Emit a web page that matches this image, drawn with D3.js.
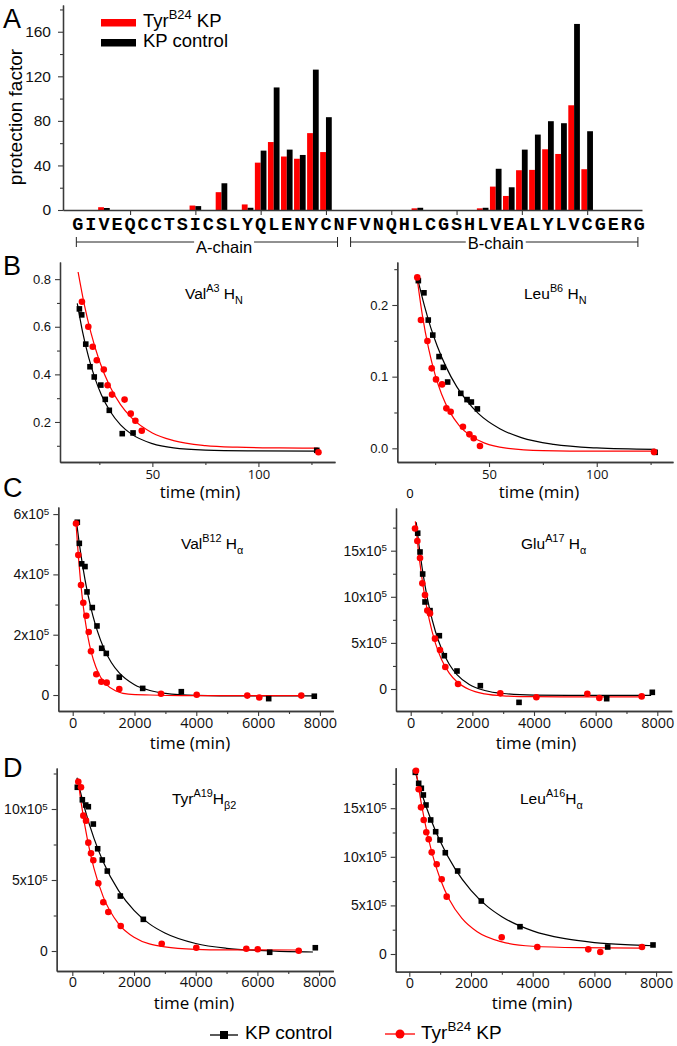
<!DOCTYPE html>
<html><head><meta charset="utf-8">
<script src="https://cdn.jsdelivr.net/npm/d3@7"></script>
<style>body{margin:0;background:#fff;} svg{display:block;} text{white-space:pre;}</style>
</head><body>
<script>
// ================= DATA =================
// Panel A: protection factors per residue
const sequence = "GIVEQCCTSICSLYQLENYCNFVNQHLCGSHLVEALYLVCGERG".split("");
const pfResidueIndex = [2,9,11,13,14,15,16,17,18,19,26,31,32,33,34,35,36,37,38,39];
const pfTyrB24   = [2.5,4,16,5,42.5,61,48,46,69,52,1.5,1.5,21,12.6,35.7,36,54.5,50.3,94,36.6];
const pfControl  = [1.8,3.5,24,2,53.3,110,54.2,49.4,126,83.3,2,2,37,20.4,54.2,67.7,79.7,77.9,167,70.7];
const pfTicks = [0,40,80,120,160];
const pfMinorTicks = [20,60,100,140,180];
const seqTickIndex = [4,9,14,19,24,29,34,39];
const chainNames = ["A-chain","B-chain"];
const chainFirst = [0,21];
const chainLast = [20,43];

// Panel B left: Val A3 HN
const valA3_kpTime = [15.6,16.7,18.6,20.6,22.6,25.7,27.8,29.7,35.8,40.9,127.5];
const valA3_kpSignal = [0.675,0.65,0.527,0.432,0.389,0.355,0.295,0.249,0.151,0.154,0.081];
const valA3_tyrTime = [16.8,19.8,21.9,23.8,27.1,28.9,31,36.9,39.8,42,45,128.3];
const valA3_tyrSignal = [0.705,0.60,0.516,0.459,0.42,0.354,0.315,0.294,0.235,0.205,0.163,0.073];
const valA3_kpFitTime = [14.6,17,20,23,26,30,35,40,50,60,75,95,128];
const valA3_kpFit = [0.698,0.583,0.47,0.382,0.313,0.246,0.188,0.15,0.109,0.091,0.082,0.079,0.078];
const valA3_tyrFitTime = [15,18,21,25,30,35,40,50,60,75,90,110,128];
const valA3_tyrFit = [0.83,0.69,0.576,0.457,0.349,0.273,0.219,0.154,0.122,0.101,0.094,0.091,0.09];

// Panel B right: Leu B6 HN
const leuB6_kpTime = [17.2,19.8,21.8,23.9,26.8,28.8,30.8,36.9,39.8,41.8,44.6,127.1];
const leuB6_kpSignal = [0.234,0.217,0.179,0.158,0.128,0.113,0.0925,0.0767,0.068,0.0646,0.055,-0.0056];
const leuB6_tyrTime = [16.7,18.4,21.4,23.4,25.4,28.2,30.2,32.2,37.9,40.9,42.9,45.8,126.6];
const leuB6_tyrSignal = [0.2385,0.179,0.1497,0.1116,0.0962,0.0892,0.0558,0.051,0.030,0.0195,0.014,0.0032,-0.005];
const leuB6_kpFitTime = [17,20,23,26,30,35,40,45,55,65,80,100,127];
const leuB6_kpFit = [0.235,0.199,0.168,0.1425,0.114,0.086,0.065,0.0487,0.0273,0.0149,0.0054,0.0005,-0.0015];
const leuB6_tyrFitTime = [16.5,19,22,25,28,32,36,41,48,58,75,100,127];
const leuB6_tyrFit = [0.24,0.187,0.1387,0.1025,0.0755,0.0498,0.0325,0.0184,0.0073,0.0003,-0.0032,-0.004,-0.004];

// Panel C left: Val B12 Hα (signal in units of 10^5)
const valB12_kpTime = [149,214,291,398,463,634,786,938,1087,1508,2265,3515,6343,7819];
const valB12_kpSignal = [5.73,5.03,4.35,4.26,3.42,2.9,2.29,1.55,1.38,0.59,0.22,0.11,-0.12,-0.04];
const valB12_tyrTime = [107,181,269,343,440,518,592,764,926,1100,1508,2858,4013,5650,6039,7398];
const valB12_tyrSignal = [5.69,4.64,3.65,3.06,2.63,2.09,1.45,0.69,0.44,0.41,0.2,0.04,0.01,-0.02,-0.08,-0.02];
const valB12_kpFitTime = [130,200,300,400,500,650,800,1000,1250,1500,2000,2500,3000,4000,5500,7800];
const valB12_kpFit = [5.69,5.13,4.43,3.82,3.30,2.64,2.12,1.57,1.08,0.74,0.34,0.15,0.056,-0.01,-0.03,-0.03];
const valB12_tyrFitTime = [100,200,300,400,500,600,750,900,1100,1400,1800,2500,3500,7400];
const valB12_tyrFit = [5.78,4.40,3.32,2.50,1.89,1.42,0.93,0.60,0.335,0.133,0.03,0.0,-0.02,-0.02];

// Panel C right: Glu A17 Hα (×10^5)
const gluA17_kpTime = [227,302,388,464,626,929,1091,1502,2259,3514,6358,7838];
const gluA17_kpSignal = [16.9,14.86,12.47,9.44,8.5,5.78,3.61,1.95,0.36,-1.45,-1.05,-0.36];
const gluA17_tyrTime = [140,215,302,377,464,539,626,788,950,1123,1535,2908,4076,5730,6119,7493];
const gluA17_tyrSignal = [17.4,16.05,14.2,11.46,10.2,8.5,8.2,5.46,4.23,2.39,0.54,-0.47,-0.9,-0.51,-0.98,-0.8];
const gluA17_kpFitTime = [180,300,450,600,800,1000,1250,1500,1900,2400,3000,4000,5500,7800];
const gluA17_kpFit = [18.08,14.8,11.49,8.89,6.26,4.36,2.69,1.57,0.5,-0.16,-0.49,-0.66,-0.7,-0.7];
const gluA17_tyrFitTime = [150,250,350,450,600,800,1000,1250,1500,1900,2400,3000,4000,5500,7500];
const gluA17_tyrFit = [18.18,15.01,12.37,10.17,7.54,4.98,3.2,1.72,0.78,-0.06,-0.53,-0.74,-0.83,-0.85,-0.85];

// Panel D left: Tyr A19 Hβ2 (×10^5)
const tyrA19_kpTime = [162,325,434,519,681,822,972,1135,1556,2302,6398,7877];
const tyrA19_kpSignal = [11.53,10.65,10.28,10.16,8.94,7.2,6.41,5.63,3.87,2.23,-0.09,0.23];
const tyrA19_tyrTime = [194,282,357,444,519,606,681,843,1005,1167,1569,2898,4019,5640,6010,7339];
const tyrA19_tyrSignal = [11.92,11.53,9.53,9.18,7.63,6.88,6.39,4.77,3.43,2.75,1.76,0.51,0.23,0.16,0.12,0.02];
const tyrA19_kpFitTime = [150,400,700,1000,1500,2000,2500,3000,4000,5000,6000,7000,7800];
const tyrA19_kpFit = [12.2,10.05,7.95,6.29,4.25,2.86,1.91,1.27,0.53,0.19,0.04,-0.04,-0.07];
const tyrA19_tyrFitTime = [180,300,500,700,1000,1500,2000,3000,4000,5000,7300];
const tyrA19_tyrFit = [12.16,10.26,7.73,5.83,3.83,1.91,0.97,0.29,0.12,0.08,0.07];

// Panel D right: Leu A16 Hα (×10^5)
const leuA16_kpTime = [195,304,390,455,541,693,855,995,1167,1568,2334,3588,6431,7900];
const leuA16_kpSignal = [18.69,17.56,17.05,16.36,15.33,13.79,12.58,11.73,10.42,8.54,5.45,2.81,0.72,0.93];
const leuA16_tyrTime = [217,304,379,467,551,629,726,888,1050,1212,2995,4149,5802,6191,7543];
const leuA16_tyrSignal = [18.86,16.95,15.09,13.79,12.52,11.8,10.46,9.23,7.69,5.9,1.72,0.72,0.48,0.21,0.72];
const leuA16_kpFitTime = [180,400,700,1000,1500,2000,2500,3000,4000,5000,6000,7000,7900];
const leuA16_kpFit = [18.87,16.54,13.84,11.6,8.68,6.55,4.98,3.84,2.38,1.6,1.18,0.96,0.85];
const leuA16_tyrFitTime = [217,400,600,800,1000,1300,1700,2200,3000,4000,5500,7500];
const leuA16_tyrFit = [18.9,15.29,12.16,9.69,7.75,5.59,3.69,2.29,1.25,0.8,0.65,0.6];

// Tick values for kinetic panels
const timeTicksShort = [50,100];
const timeMinorShort = [25,75,125];
const timeTicksLong = [0,2000,4000,6000,8000];
const timeMinorLong = [1000,3000,5000,7000];

// ================= DRAWING =================
const RED = "#ff0000", BLACK = "#000000", AXC = "#3a3a3a";
const SANS = "'Liberation Sans', Arial, sans-serif";
const OPEN = "'Open Sans', 'Liberation Sans', sans-serif";
const svg = d3.select("body").append("svg").attr("width",677).attr("height",1046)
  .style("font-family", SANS);

function styleAxis(g, size, family){
  g.attr("font-family", family).attr("font-size", size);
  g.select(".domain").attr("stroke", AXC).attr("stroke-width", 1.3);
  g.selectAll(".tick line").attr("stroke", AXC).attr("stroke-width", 1.1);
  g.selectAll(".tick text").attr("fill", "#111");
  return g;
}

function richText(sel, parts, size){
  let off = 0;
  parts.forEach(p => {
    const kind = p[1];
    const target = kind === "sup" ? -0.42*size : kind === "sub" ? 0.32*size : 0;
    sel.append("tspan").attr("dy", target - off)
      .attr("font-size", kind ? size*0.7 : size).text(p[0]);
    off = target;
  });
}

// Panel letters
[["A",28],["B",275],["C",497],["D",777]].forEach(([t,yb]) =>
  svg.append("text").attr("x",3).attr("y",yb).attr("font-size",27).attr("font-family",SANS).text(t));

// ---------- Panel A ----------
const gA = svg.append("g");
const xA = d3.scaleLinear().domain([-1.1355, 43.199]).range([63, 642]);
const yA = d3.scaleLinear().domain([0, 184]).range([210, 5]);
const bw = 5.8;
gA.selectAll("rect.tyr").data(pfResidueIndex).join("rect")
  .attr("x", d => xA(d) - bw).attr("width", bw)
  .attr("y", (d,i) => yA(pfTyrB24[i])).attr("height", (d,i) => yA(0) - yA(pfTyrB24[i]))
  .attr("fill", RED);
gA.selectAll("rect.kp").data(pfResidueIndex).join("rect")
  .attr("x", d => xA(d)).attr("width", bw)
  .attr("y", (d,i) => yA(pfControl[i])).attr("height", (d,i) => yA(0) - yA(pfControl[i]))
  .attr("fill", BLACK);

styleAxis(gA.append("g").attr("transform","translate(63,0)")
  .call(d3.axisLeft(yA).tickValues(pfTicks).tickSize(5).tickPadding(7).tickSizeOuter(0)), 15.5, SANS);
styleAxis(gA.append("g").attr("transform","translate(63,0)")
  .call(d3.axisLeft(yA).tickValues(pfMinorTicks).tickSize(3).tickFormat("").tickSizeOuter(0)), 15, SANS);
styleAxis(gA.append("g").attr("transform","translate(0,210)")
  .call(d3.axisBottom(xA).tickValues(seqTickIndex).tickSize(5).tickFormat("").tickSizeOuter(0)), 15, SANS);

gA.append("text").attr("transform","translate(22,117) rotate(-90)").attr("text-anchor","middle")
  .attr("font-size",19).text("protection factor");

// sequence letters (monospace, bold)
gA.selectAll("text.seq").data(sequence).join("text")
  .attr("x",(d,i)=>xA(i)).attr("y",230).attr("text-anchor","middle")
  .attr("font-family","'Liberation Mono','DejaVu Sans Mono',monospace").attr("font-weight","bold")
  .attr("font-size",18.5).text(d=>d);

// chain brackets
const chainLabelPos = [11.2, 32.0];
const chainLabelBase = [253, 249];
chainNames.forEach((name, k) => {
  const x0 = xA(chainFirst[k]) - 1.5, x1 = xA(chainLast[k]) - 1.5, yl = 242;
  const t = gA.append("text").attr("x", xA(chainLabelPos[k])).attr("y", chainLabelBase[k])
    .attr("text-anchor","middle").attr("font-size",16.5).text(name);
  const bb = t.node().getBBox();
  const c = gA.append("g").attr("stroke","#222").attr("stroke-width",1);
  c.append("line").attr("x1",x0).attr("x2",bb.x-2).attr("y1",yl).attr("y2",yl);
  c.append("line").attr("x1",bb.x+bb.width+2).attr("x2",x1).attr("y1",yl).attr("y2",yl);
  c.append("line").attr("x1",x0).attr("x2",x0).attr("y1",yl-5).attr("y2",yl+5);
  c.append("line").attr("x1",x1).attr("x2",x1).attr("y1",yl-5).attr("y2",yl+5);
});

// legend A
gA.append("rect").attr("x",101).attr("y",19).attr("width",35).attr("height",7.5).attr("fill",RED);
gA.append("rect").attr("x",101).attr("y",39).attr("width",35).attr("height",7.5).attr("fill",BLACK);
richText(gA.append("text").attr("x",143).attr("y",27), [["Tyr"],["B24","sup"],[" KP"]], 18.5);
gA.append("text").attr("x",143).attr("y",47).attr("font-size",18.5).text("KP control");

// ---------- Kinetic panels ----------
const panels = [
  { xr:[60,335], yr:[462,262], xd:[6.46,136.1], yd:[0.0319,0.872],
    xt:timeTicksShort, xm:timeMinorShort, yt:[0.2,0.4,0.6,0.8], ym:[0.1,0.3,0.5,0.7],
    fmt:"dec", yFont:13, xFont:13, xPad:3,
    title:[["Val"],["A3","sup"],[" H"],["N","sub"]], tx:185, ty:299, timeX:200, timeY:498,
    kp:[valA3_kpTime,valA3_kpSignal], tyr:[valA3_tyrTime,valA3_tyrSignal],
    kpFit:[valA3_kpFitTime,valA3_kpFit], tyrFit:[valA3_tyrFitTime,valA3_tyrFit] },
  { xr:[397.3,673], yr:[462,262], xd:[7.43,135.4], yd:[-0.0191,0.26],
    xt:timeTicksShort, xm:timeMinorShort, yt:[0,0.1,0.2], ym:[0.05,0.15,0.25],
    fmt:"dec", yFont:13, xFont:13, xPad:3,
    title:[["Leu"],["B6","sup"],[" H"],["N","sub"]], tx:524, ty:299, timeX:539, timeY:498,
    kp:[leuB6_kpTime,leuB6_kpSignal], tyr:[leuB6_tyrTime,leuB6_tyrSignal],
    kpFit:[leuB6_kpFitTime,leuB6_kpFit], tyrFit:[leuB6_tyrFitTime,leuB6_tyrFit] },
  { xr:[58.3,333.3], yr:[711,507], xd:[-466,8434], yd:[-0.53,6.235],
    xt:timeTicksLong, xm:timeMinorLong, yt:[0,2,4,6], ym:[1,3,5],
    fmt:"exp", yFont:14, xFont:14.5, xPad:1.5,
    title:[["Val"],["B12","sup"],[" H"],["α","sub"]], tx:181, ty:549, timeX:190, timeY:748.5,
    kp:[valB12_kpTime,valB12_kpSignal], tyr:[valB12_tyrTime,valB12_tyrSignal],
    kpFit:[valB12_kpFitTime,valB12_kpFit], tyrFit:[valB12_tyrFitTime,valB12_tyrFit] },
  { xr:[396,671.7], yr:[711,508], xd:[-477,8467], yd:[-2.386,19.63],
    xt:timeTicksLong, xm:timeMinorLong, yt:[0,5,10,15], ym:[2.5,7.5,12.5,17.5],
    fmt:"exp", yFont:14, xFont:14.5, xPad:1.5,
    title:[["Glu"],["A17","sup"],[" H"],["α","sub"]], tx:521, ty:549, timeX:536, timeY:748.5,
    kp:[gluA17_kpTime,gluA17_kpSignal], tyr:[gluA17_tyrTime,gluA17_tyrSignal],
    kpFit:[gluA17_kpFitTime,gluA17_kpFit], tyrFit:[gluA17_tyrFitTime,gluA17_tyrFit] },
  { xr:[56.7,333.3], yr:[971,768], xd:[-506,8460], yd:[-1.408,12.887],
    xt:timeTicksLong, xm:timeMinorLong, yt:[0,5,10], ym:[2.5,7.5,12.5],
    fmt:"exp", yFont:14, xFont:14.5, xPad:1,
    title:[["Tyr"],["A19","sup"],["H"],["β2","sub"]], tx:172, ty:804, timeX:194, timeY:1008.5,
    kp:[tyrA19_kpTime,tyrA19_kpSignal], tyr:[tyrA19_tyrTime,tyrA19_tyrSignal],
    kpFit:[tyrA19_kpFitTime,tyrA19_kpFit], tyrFit:[tyrA19_tyrFitTime,tyrA19_tyrFit] },
  { xr:[395.7,671.7], yr:[971.7,767.7], xd:[-441,8506], yd:[-1.821,19.167],
    xt:timeTicksLong, xm:timeMinorLong, yt:[0,5,10,15], ym:[2.5,7.5,12.5,17.5],
    fmt:"exp", yFont:14, xFont:14.5, xPad:1,
    title:[["Leu"],["A16","sup"],["H"],["α","sub"]], tx:520, ty:804, timeX:532, timeY:1008.5,
    kp:[leuA16_kpTime,leuA16_kpSignal], tyr:[leuA16_tyrTime,leuA16_tyrSignal],
    kpFit:[leuA16_kpFitTime,leuA16_kpFit], tyrFit:[leuA16_tyrFitTime,leuA16_tyrFit] }
];

panels.forEach(p => {
  const g = svg.append("g");
  const x = d3.scaleLinear().domain(p.xd).range(p.xr);
  const y = d3.scaleLinear().domain(p.yd).range(p.yr);

  // axes
  styleAxis(g.append("g").attr("transform",`translate(0,${p.yr[0]})`)
    .call(d3.axisBottom(x).tickValues(p.xt).tickSize(5).tickPadding(p.xPad).tickSizeOuter(0)
      .tickFormat(d3.format("d"))), p.xFont, OPEN);
  styleAxis(g.append("g").attr("transform",`translate(0,${p.yr[0]})`)
    .call(d3.axisBottom(x).tickValues(p.xm).tickSize(3).tickFormat("").tickSizeOuter(0)), p.xFont, OPEN);
  const gy = styleAxis(g.append("g").attr("transform",`translate(${p.xr[0]},0)`)
    .call(d3.axisLeft(y).tickValues(p.yt).tickSize(5).tickPadding(4).tickSizeOuter(0)
      .tickFormat(p.fmt === "dec" ? d3.format(".1f") : d => String(d))), p.yFont, SANS);
  styleAxis(g.append("g").attr("transform",`translate(${p.xr[0]},0)`)
    .call(d3.axisLeft(y).tickValues(p.ym).tickSize(3).tickFormat("").tickSizeOuter(0)), p.yFont, SANS);
  if (p.fmt === "exp") {
    gy.selectAll(".tick text").each(function(d){
      const t = d3.select(this);
      if (d === 0) return;
      t.text("");
      t.append("tspan").text(d + "x10");
      t.append("tspan").attr("dy","-0.45em").attr("font-size", p.yFont*0.7).text("5");
    });
  }

  // fit curves
  const line = d3.line().x(d => x(d[0])).y(d => y(d[1])).curve(d3.curveMonotoneX);
  g.append("path").datum(d3.zip(p.kpFit[0], p.kpFit[1])).attr("d", line)
    .attr("fill","none").attr("stroke",BLACK).attr("stroke-width",1.2);
  g.append("path").datum(d3.zip(p.tyrFit[0], p.tyrFit[1])).attr("d", line)
    .attr("fill","none").attr("stroke",RED).attr("stroke-width",1.2);

  // points
  const s = 5.6;
  g.selectAll("rect.kp").data(d3.zip(p.kp[0], p.kp[1])).join("rect")
    .attr("x", d => x(d[0]) - s/2).attr("y", d => y(d[1]) - s/2)
    .attr("width", s).attr("height", s).attr("fill", BLACK);
  g.selectAll("circle.tyr").data(d3.zip(p.tyr[0], p.tyr[1])).join("circle")
    .attr("cx", d => x(d[0])).attr("cy", d => y(d[1])).attr("r", 3.3).attr("fill", RED);

  // title
  richText(g.append("text").attr("x",p.tx).attr("y",p.ty).attr("font-family",SANS), p.title, 15.5);
  // x label
  g.append("text").attr("x",p.timeX).attr("y",p.timeY).attr("text-anchor","middle")
    .attr("font-family",OPEN).attr("font-size",17).text("time (min)");
});

// stray "0" label in panel B right (present in the original figure)
svg.append("text").attr("x",410).attr("y",498).attr("text-anchor","middle")
  .attr("font-family",OPEN).attr("font-size",13).text("0");

// ---------- bottom legend ----------
const lg = svg.append("g");
lg.append("line").attr("x1",210).attr("x2",238).attr("y1",1035).attr("y2",1035).attr("stroke",BLACK).attr("stroke-width",1.3);
lg.append("rect").attr("x",224-4).attr("y",1035-4).attr("width",8).attr("height",8).attr("fill",BLACK);
lg.append("text").attr("x",245).attr("y",1039).attr("font-size",19).text("KP control");
lg.append("line").attr("x1",385).attr("x2",415).attr("y1",1034).attr("y2",1034).attr("stroke",RED).attr("stroke-width",1.3);
lg.append("circle").attr("cx",400).attr("cy",1034).attr("r",4.5).attr("fill",RED);
richText(lg.append("text").attr("x",421).attr("y",1039), [["Tyr"],["B24","sup"],[" KP"]], 19);
</script>
</body></html>
